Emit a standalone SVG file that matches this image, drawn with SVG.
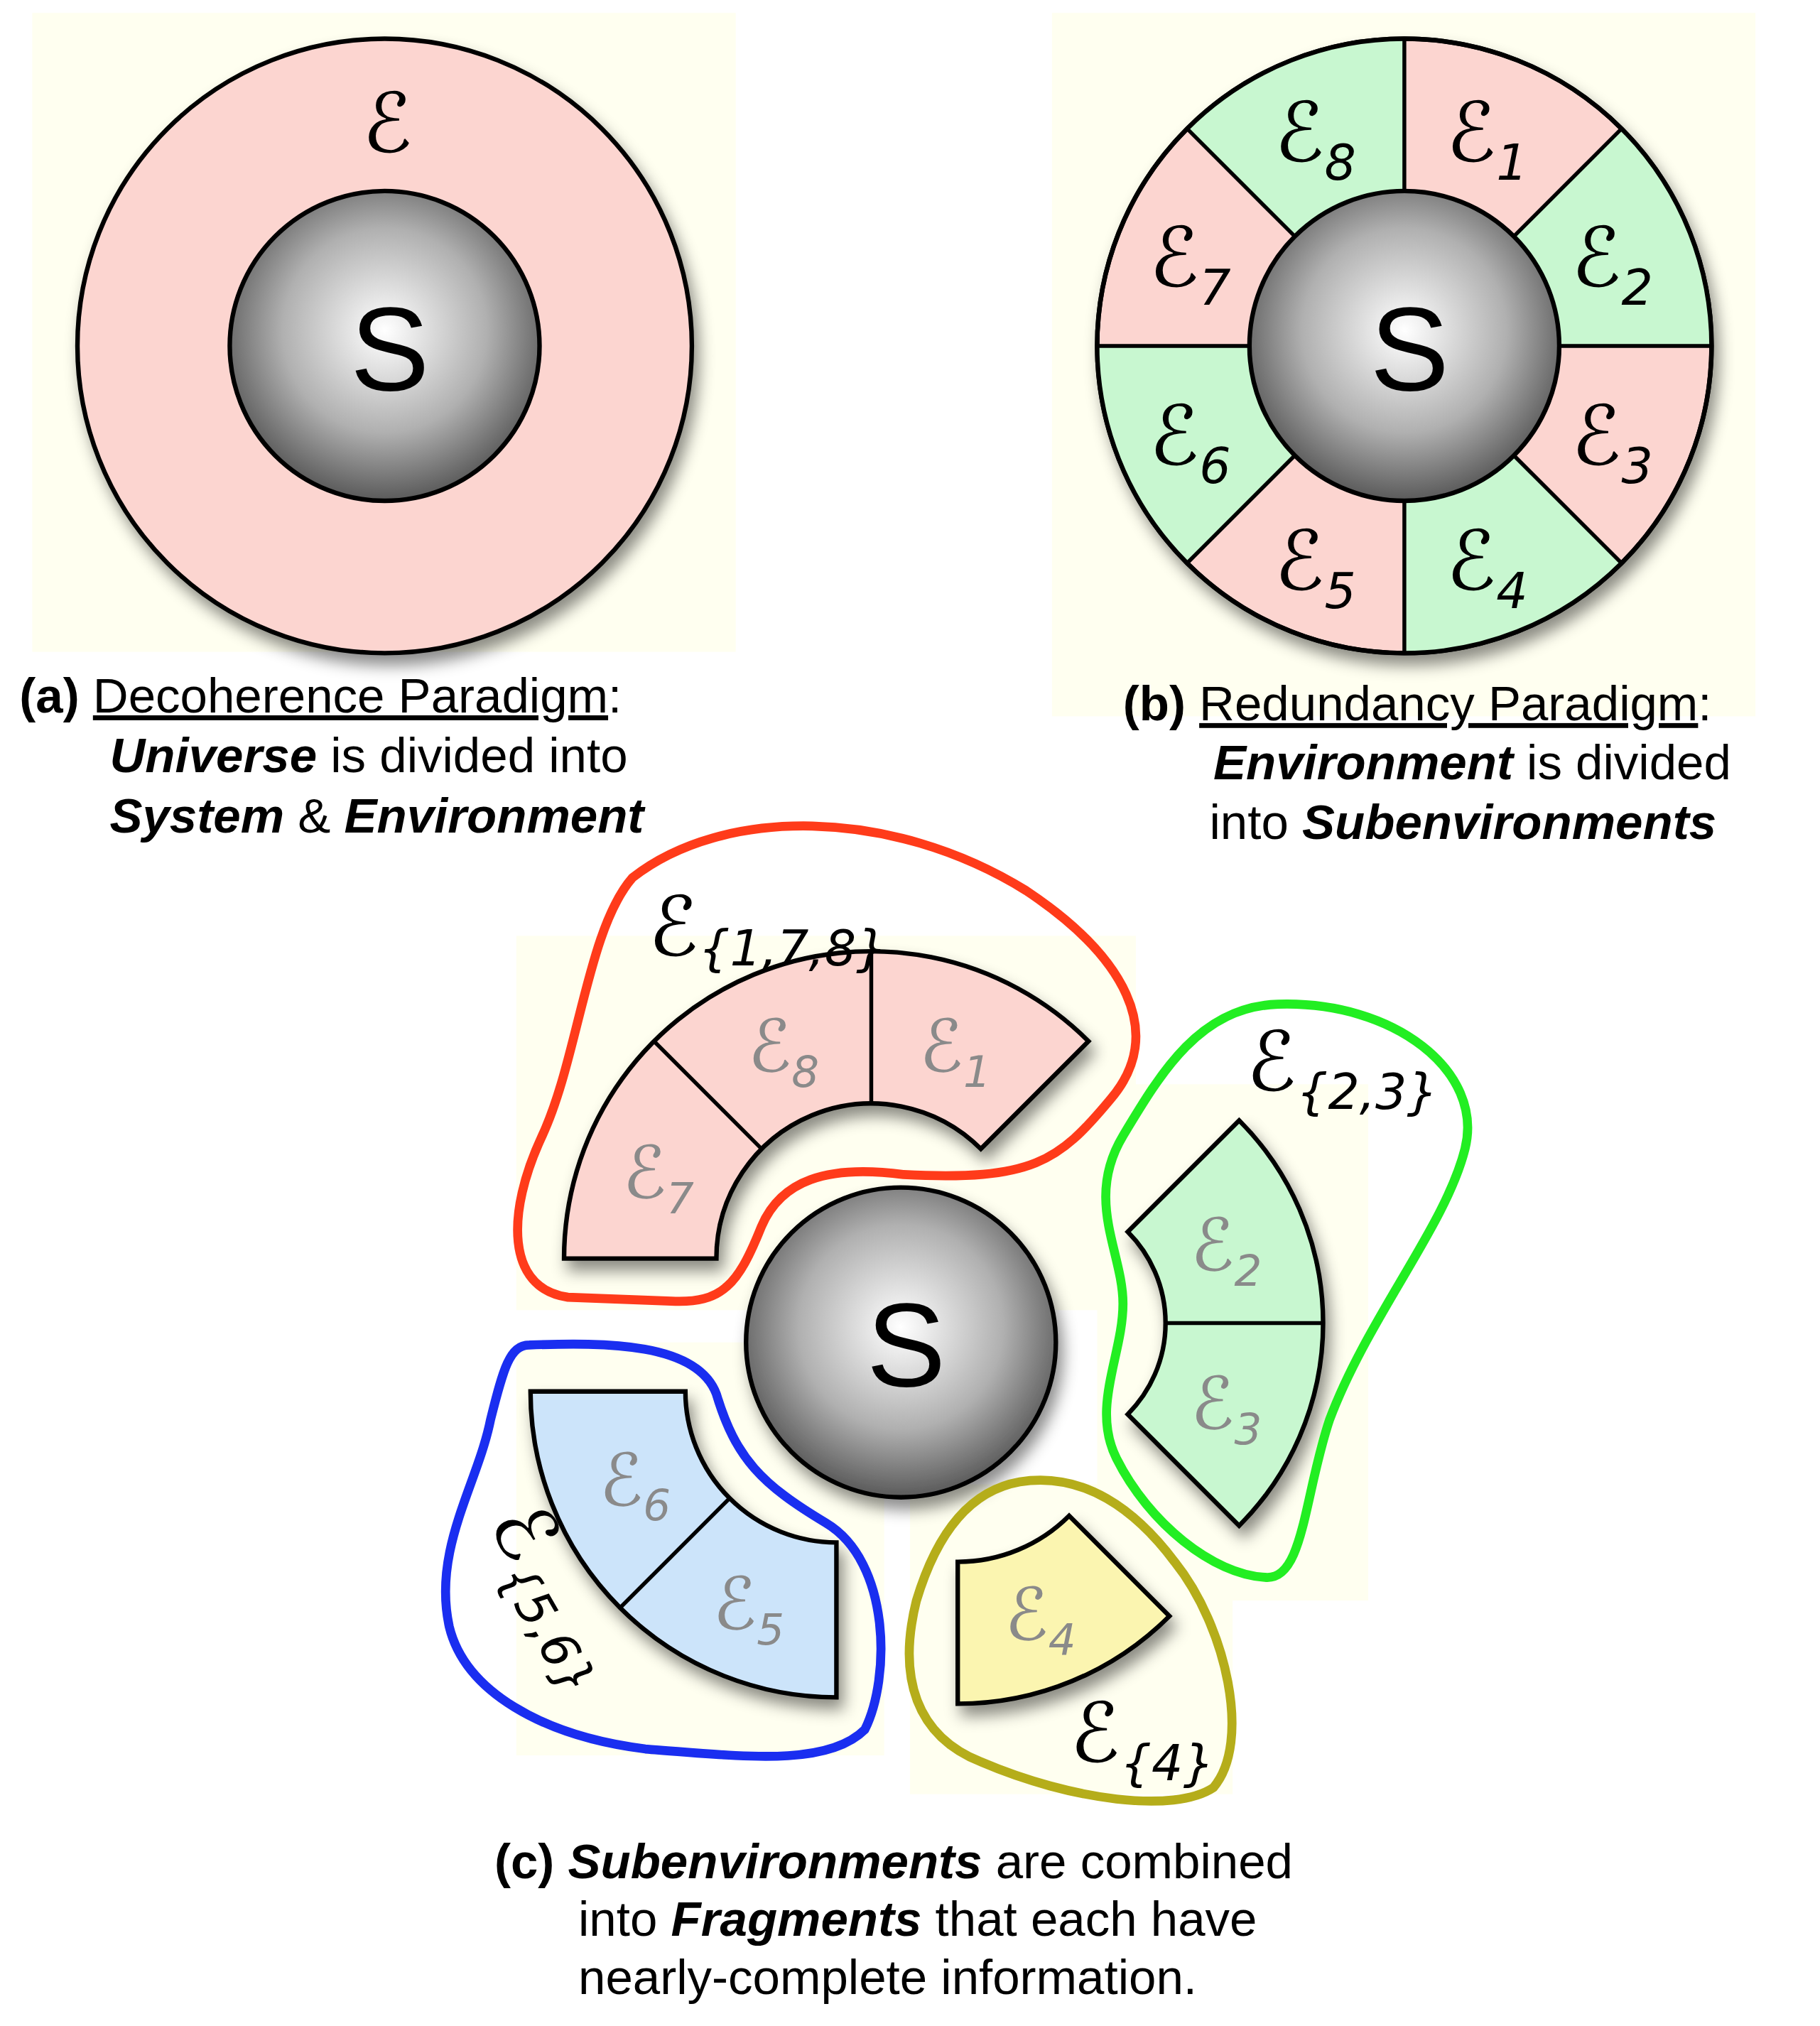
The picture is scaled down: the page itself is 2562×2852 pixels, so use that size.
<svg xmlns="http://www.w3.org/2000/svg" width="2562" height="2852" viewBox="0 0 2562 2852">
<style>
.bg{fill:#fffff0}
.ring{stroke:#000;stroke-width:3.5}
.pink{fill:#fcd5d0}
.green{fill:#c8f7d0}
.line{stroke:#000;stroke-width:3;fill:none}
.e{font-family:"DejaVu Sans",sans-serif;font-style:italic;font-size:64px;fill:#000;text-anchor:middle}
.eg{font-family:"DejaVu Sans",sans-serif;font-style:italic;font-size:56px;fill:#8a8a8a;text-anchor:middle}
.sub{font-size:0.6em}
.S{font-family:"Liberation Sans",Arial,sans-serif;font-size:92px;text-anchor:middle;fill:#000}
.cap{font-family:"Liberation Sans",Arial,sans-serif;font-size:38px;fill:#000}
.bl{fill:none;stroke-width:7;stroke-linejoin:round}
</style>
<defs>
<radialGradient id="sg" cx="0.5" cy="0.45" r="0.55">
<stop offset="0" stop-color="#ffffff"/><stop offset="0.6" stop-color="#b0b0b0"/><stop offset="1" stop-color="#5a5a5a"/>
</radialGradient>
<filter id="sh" x="-20%" y="-20%" width="150%" height="150%"><feDropShadow dx="4" dy="8" stdDeviation="6" flood-color="#000" flood-opacity="0.45"/></filter>
</defs>
<rect width="2562" height="2852" fill="#fff"/>
<g transform="scale(1.817)">
<rect class="bg" x="25" y="10" width="545" height="495"/>
<rect class="bg" x="815" y="10" width="545" height="545"/>
<rect class="bg" x="400" y="725" width="480" height="290"/>
<rect class="bg" x="850" y="840" width="210" height="400"/>
<rect class="bg" x="400" y="1040" width="285" height="320"/>
<rect class="bg" x="705" y="1150" width="250" height="240"/>

<g id="panel-a">
<circle class="ring pink" cx="298" cy="268" r="238" filter="url(#sh)"/>
<circle class="ring" cx="298" cy="268" r="120" fill="url(#sg)"/>
<text class="S" x="302" y="302">S</text>
<text class="e" x="300" y="118" font-size="70">ℰ</text>
</g>

<g id="panel-b">
<circle class="ring pink" cx="1088" cy="268" r="238" filter="url(#sh)"/>
<path class="green" d="M1256.3,99.7 A238 238 0 0 1 1326,268 L1208,268 A120 120 0 0 0 1172.9,183.1 Z"/>
<path class="green" d="M1256.3,436.3 A238 238 0 0 1 1088,506 L1088,388 A120 120 0 0 0 1172.9,352.9 Z"/>
<path class="green" d="M919.7,436.3 A238 238 0 0 1 850,268 L968,268 A120 120 0 0 0 1003.1,352.9 Z"/>
<path class="green" d="M919.7,99.7 A238 238 0 0 1 1088,30 L1088,148 A120 120 0 0 0 1003.1,183.1 Z"/>
<circle class="ring" cx="1088" cy="268" r="238" fill="none"/>
<path class="line" d="M1088,30V148 M1256.3,99.7L1172.9,183.1 M1326,268H1208 M1256.3,436.3L1172.9,352.9 M1088,506V388 M919.7,436.3L1003.1,352.9 M850,268H968 M919.7,99.7L1003.1,183.1"/>
<circle class="ring" cx="1088" cy="268" r="120" fill="url(#sg)"/>
<text class="S" x="1092" y="302">S</text>
<text class="e" x="1152" y="125">ℰ<tspan class="sub" dy="14">1</tspan></text>
<text class="e" x="1249" y="222">ℰ<tspan class="sub" dy="14">2</tspan></text>
<text class="e" x="1249" y="360">ℰ<tspan class="sub" dy="14">3</tspan></text>
<text class="e" x="1152" y="457">ℰ<tspan class="sub" dy="14">4</tspan></text>
<text class="e" x="1019" y="457">ℰ<tspan class="sub" dy="14">5</tspan></text>
<text class="e" x="922" y="360">ℰ<tspan class="sub" dy="14">6</tspan></text>
<text class="e" x="922" y="222">ℰ<tspan class="sub" dy="14">7</tspan></text>
<text class="e" x="1019" y="125">ℰ<tspan class="sub" dy="14">8</tspan></text>
</g>

<g id="panel-c">
<g id="frag-178">
<path class="ring pink" filter="url(#sh)" d="M437,975 A238 238 0 0 1 843.3,806.7 L759.9,890.1 A120 120 0 0 0 555,975 Z"/>
<path class="line" d="M506.7,806.7L590.1,890.1 M675,737V855"/>
<text class="eg" x="510" y="928">ℰ<tspan class="sub" dy="12">7</tspan></text>
<text class="eg" x="607" y="830">ℰ<tspan class="sub" dy="12">8</tspan></text>
<text class="eg" x="740" y="830">ℰ<tspan class="sub" dy="12">1</tspan></text>
</g>
<g id="frag-23">
<path class="ring green" filter="url(#sh)" d="M960,868 A222 222 0 0 1 960,1182 L873.7,1095.7 A100 100 0 0 0 873.7,954.3 Z"/>
<path class="line" d="M903,1025H1025"/>
<text class="eg" x="950" y="984">ℰ<tspan class="sub" dy="12">2</tspan></text>
<text class="eg" x="950" y="1107">ℰ<tspan class="sub" dy="12">3</tspan></text>
</g>
<g id="frag-56">
<path class="ring" fill="#cce4fa" filter="url(#sh)" d="M411,1078 L531,1078 A117 117 0 0 0 648,1195 L648,1315 A237 237 0 0 1 411,1078 Z"/>
<path class="line" d="M480.4,1245.6L565.3,1160.7"/>
<text class="eg" x="580" y="1262">ℰ<tspan class="sub" dy="12">5</tspan></text>
<text class="eg" x="492" y="1166">ℰ<tspan class="sub" dy="12">6</tspan></text>
</g>
<g id="frag-4">
<path class="ring" fill="#fbf5b0" filter="url(#sh)" d="M828.3,1174.3 L906,1252 A232 232 0 0 1 742,1320 L742,1210 A122 122 0 0 0 828.3,1174.3 Z"/>
<text class="eg" x="806" y="1270">ℰ<tspan class="sub" dy="12">4</tspan></text>
</g>
<g id="system-c">
<circle class="ring" cx="698" cy="1040" r="120" fill="url(#sg)" filter="url(#sh)"/>
<text class="S" x="702" y="1074">S</text>
</g>
<g id="outlines">
<path class="bl" stroke="#ff3b1a" d="M490,680 C560,625 690,625 795,690 C870,740 905,800 860,852 C820,900 800,915 700,910 C640,902 605,915 590,950 C572,995 560,1010 520,1008 L440,1005 C392,998 392,940 420,880 C448,820 455,720 490,680 Z"/>
<path class="bl" stroke="#22ee22" d="M990,778 C1080,775 1150,830 1135,890 C1120,950 1060,1020 1030,1100 C1010,1160 1010,1225 980,1222 C940,1220 890,1180 865,1130 C845,1090 870,1050 870,1010 C870,970 840,930 870,880 C900,830 930,780 990,778 Z"/>
<path class="bl" stroke="#1a2ef0" d="M410,1042 C470,1040 540,1040 555,1080 C570,1130 590,1150 640,1180 C690,1210 690,1300 670,1340 C640,1370 570,1360 500,1355 C420,1345 360,1310 348,1260 C335,1200 370,1150 380,1100 C390,1060 395,1042 410,1042 Z"/>
<path class="bl" stroke="#b5ad1a" d="M790,1148 C840,1140 880,1170 910,1210 C950,1260 970,1350 940,1385 C910,1405 830,1395 760,1365 C710,1345 695,1300 710,1240 C725,1190 750,1155 790,1148 Z"/>
</g>
<text class="e" x="595" y="740" font-size="56">ℰ<tspan class="sub" dy="8">{1,7,8}</tspan></text>
<text class="e" x="1040" y="845" font-size="56">ℰ<tspan class="sub" dy="14">{2,3}</tspan></text>
<text class="e" transform="translate(415,1245) rotate(60)" font-size="56">ℰ<tspan class="sub" dy="14">{5,6}</tspan></text>
<text class="e" x="885" y="1365" font-size="56">ℰ<tspan class="sub" dy="14">{4}</tspan></text>
</g>

<g id="captions">
<text class="cap" x="15" y="552"><tspan font-weight="bold">(a)</tspan>  <tspan text-decoration="underline">Decoherence Paradigm</tspan>:</text>
<text class="cap" x="85" y="598"><tspan font-weight="bold" font-style="italic">Universe</tspan> is divided into</text>
<text class="cap" x="85" y="645"><tspan font-weight="bold" font-style="italic">System</tspan> &amp; <tspan font-weight="bold" font-style="italic">Environment</tspan></text>
<text class="cap" x="870" y="558"><tspan font-weight="bold">(b)</tspan>  <tspan text-decoration="underline">Redundancy Paradigm</tspan>:</text>
<text class="cap" x="940" y="604"><tspan font-weight="bold" font-style="italic">Environment</tspan> is divided</text>
<text class="cap" x="937" y="650">into <tspan font-weight="bold" font-style="italic">Subenvironments</tspan></text>
<text class="cap" x="383" y="1455"><tspan font-weight="bold">(c)</tspan> <tspan font-weight="bold" font-style="italic">Subenvironments</tspan> are combined</text>
<text class="cap" x="448" y="1500">into <tspan font-weight="bold" font-style="italic">Fragments</tspan> that each have</text>
<text class="cap" x="448" y="1545">nearly-complete information.</text>
</g>
</g>
</svg>
